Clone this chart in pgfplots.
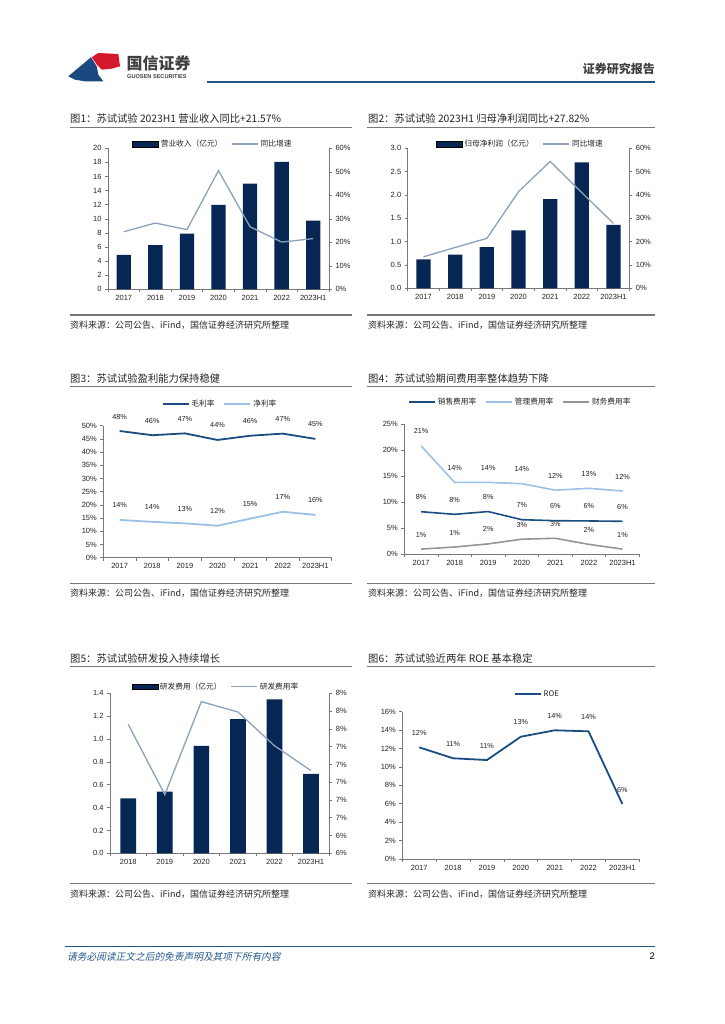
\documentclass[border=0pt]{standalone}
\usepackage{fontspec}
\setmainfont{Liberation Sans}
\newfontfamily\cjk{Noto Sans CJK SC}
\newfontfamily\cjkit{Noto Sans CJK SC}[FakeSlant=0.22]
\usepackage{pgfplots}
\pgfplotsset{compat=1.18}

\definecolor{navy}{RGB}{6,38,84}
\definecolor{gline}{RGB}{140,162,188}
\definecolor{dline}{RGB}{26,78,128}
\definecolor{lline}{RGB}{155,194,230}
\definecolor{fline}{RGB}{150,150,150}
\definecolor{axline}{RGB}{120,120,120}
\definecolor{txt}{RGB}{35,35,35}
\definecolor{rule}{RGB}{120,120,120}
\definecolor{hblue}{RGB}{36,88,140}
\definecolor{logored}{RGB}{214,24,44}
\definecolor{logoblue}{RGB}{28,72,130}

\pgfplotsset{
  base/.style={
    scale only axis, clip=false, anchor=south west,
    axis line style={draw=axline, line width=0.6pt},
    tick style={draw=axline, line width=0.6pt},
    major tick length=3pt,
    ticklabel style={font=\fontsize{7.5}{8.5}\selectfont, text=txt},
    /pgf/number format/assume math mode=true,
    legend style={draw=none, fill=none, anchor=center, inner sep=0pt,
      font=\cjk\fontsize{7.7}{9}\selectfont, text=txt, legend columns=-1,
      /tikz/every even column/.append style={column sep=7pt}},
  },
  cats/.style={
    axis x line*=bottom, axis y line*=left, tick align=outside,
    xticklabels={},
    extra x tick labels={#1},
    extra x tick style={major tick length=0pt,
      xticklabel style={yshift=-2.5pt}},
  },
  seven/.style={xmin=-0.5, xmax=6.5,
    xtick={-0.5,0.5,1.5,2.5,3.5,4.5,5.5,6.5},
    extra x ticks={0,1,2,3,4,5,6},
    cats={2017,2018,2019,2020,2021,2022,2023H1}},
  six/.style={xmin=-0.5, xmax=5.5,
    xtick={-0.5,0.5,1.5,2.5,3.5,4.5,5.5},
    extra x ticks={0,1,2,3,4,5},
    cats={2018,2019,2020,2021,2022,2023H1}},
  right/.style={axis x line=none, axis y line*=right, tick align=outside},
  pct/.style={yticklabel={\pgfmathprintnumber{\tick}\%}},
  barleg/.style={legend image code/.code={\fill[##1] (0pt,-2.8pt) rectangle (26pt,2.8pt);}},
  lineleg/.style={legend image code/.code={\draw[##1] (0pt,0pt) -- (26pt,0pt);}},
  lbl/.style={nodes near coords, point meta=explicit symbolic,
    every node near coord/.append style={font=\fontsize{7.3}{8}\selectfont,
      text=txt, anchor=center, inner sep=0pt, yshift=14.5pt}},
}

\begin{document}
\begin{tikzpicture}[x=1pt,y=1pt]
\fill[white] (0,0) rectangle (724,-1024);

% header
\fill[logored] (91.7,-57.3) -- (98.3,-53) -- (118.3,-54) -- (120,-66.3) -- (111.7,-68.7) -- (101.7,-69.7) -- (97.3,-65.3) -- cycle;
\fill[logoblue] (68.3,-76.3) -- (91,-57.3) -- (96.7,-66.3) -- (98.3,-74.7) -- (103.3,-81.3) -- (85,-81.3) -- (75,-79.7) -- cycle;
\node[anchor=west, inner sep=0pt, text=black!75] at (126.5,-63) {\cjk\bfseries\fontsize{16}{18}\selectfont 国信证券};
\node[anchor=west, inner sep=0pt, text=black!75] at (127,-76.5) {\bfseries\fontsize{5.6}{6}\selectfont GUOSEN SECURITIES};
\draw[hblue, line width=1.8pt] (207,-81.7) -- (655,-81.7);
\node[anchor=east, inner sep=0pt, text=black!75] at (655,-69.3) {\cjk\bfseries\fontsize{12}{14}\selectfont 证券研究报告};

% titles, rules, sources
\foreach \x/\y/\t in {70/118.3/{图1：苏试试验 2023H1 营业收入同比+21.57\%},
                       368/118.3/{图2：苏试试验 2023H1 归母净利润同比+27.82\%},
                       70/378.3/{图3：苏试试验盈利能力保持稳健},
                       368/378.3/{图4：苏试试验期间费用率整体趋势下降},
                       70/658.3/{图5：苏试试验研发投入持续增长},
                       368/658.3/{图6：苏试试验近两年 ROE 基本稳定}}
  {\node[anchor=west, inner sep=0pt, text=black!85] at (\x,-\y) {\cjk\fontsize{10.3}{12}\selectfont \t};}
\foreach \y in {127.3,315,386.7,583.3,666.7,883.3}
  {\draw[rule, line width=1.2pt] (70,-\y) -- (352,-\y);
   \draw[rule, line width=1.2pt] (367,-\y) -- (655,-\y);}
\foreach \x/\y in {70/325.5,368/325.5,70/593,368/593,70/894,368/894}
  {\node[anchor=west, inner sep=0pt, text=black!85] at (\x,-\y) {\cjk\fontsize{9}{11}\selectfont 资料来源：公司公告、iFind，国信证券经济研究所整理};}

% footer
\draw[hblue, line width=0.8pt] (65,-946.5) -- (655,-946.5);
\node[anchor=west, inner sep=0pt, text=hblue] at (67,-956.5) {\cjkit\fontsize{9.7}{11}\selectfont 请务必阅读正文之后的免责声明及其项下所有内容};
\node[anchor=east, inner sep=0pt] at (655,-956.5) {\fontsize{9.5}{11}\selectfont 2};

% chart 1
\begin{axis}[base, seven, at={(108pt,-289.3pt)}, width=221pt, height=141pt,
  ymin=0, ymax=20, ytick={0,2,...,20}]
\addplot[ybar, bar width=14.3pt, fill=navy, draw=none] coordinates
  {(0,4.87) (1,6.28) (2,7.89) (3,11.96) (4,14.98) (5,18.06) (6,9.73)};
\end{axis}
\begin{axis}[base, right, pct, at={(108pt,-289.3pt)}, width=221pt, height=141pt,
  xmin=-0.5, xmax=6.5, ymin=0, ymax=60, ytick={0,10,...,60},
  legend style={at={(0.475,1.03)}}]
\addlegendimage{barleg, fill=navy}
\addlegendentry{营业收入（亿元）}
\addplot[lineleg, gline, line width=1.3pt] coordinates
  {(0,24.5) (1,28.2) (2,25.4) (3,50.5) (4,26.6) (5,20.1) (6,21.57)};
\addlegendentry{同比增速}
\end{axis}

% chart 2
\begin{axis}[base, seven, at={(407.7pt,-288.3pt)}, width=221.6pt, height=140pt,
  ymin=0, ymax=3, ytick={0,0.5,...,3},
  yticklabel style={/pgf/number format/.cd, fixed, fixed zerofill, precision=1}]
\addplot[ybar, bar width=14.3pt, fill=navy, draw=none] coordinates
  {(0,0.62) (1,0.72) (2,0.88) (3,1.24) (4,1.91) (5,2.70) (6,1.36)};
\end{axis}
\begin{axis}[base, right, pct, at={(407.7pt,-288.3pt)}, width=221.6pt, height=140pt,
  xmin=-0.5, xmax=6.5, ymin=0, ymax=60, ytick={0,10,...,60},
  legend style={at={(0.509,1.031)}}]
\addlegendimage{barleg, fill=navy}
\addlegendentry{归母净利润（亿元）}
\addplot[lineleg, gline, line width=1.3pt] coordinates
  {(0,13.5) (1,17.5) (2,21.4) (3,41.4) (4,54.4) (5,41.0) (6,27.82)};
\addlegendentry{同比增速}
\end{axis}

% chart 3
\begin{axis}[base, seven, pct, at={(103.3pt,-557.7pt)}, width=228.4pt, height=132pt,
  ymin=0, ymax=50, ytick={0,5,...,50},
  legend style={at={(0.511,1.162)}}]
\addplot[lineleg, lbl, dline, line width=1.8pt] coordinates
  {(0,48.0)[48\%] (1,46.4)[46\%] (2,47.1)[47\%] (3,44.6)[44\%] (4,46.2)[46\%] (5,47.0)[47\%] (6,45.0)[45\%]};
\addlegendentry{毛利率}
\addplot[lineleg, lbl, lline, line width=1.8pt] coordinates
  {(0,14.3)[14\%] (1,13.6)[14\%] (2,13.0)[13\%] (3,12.1)[12\%] (4,14.8)[15\%] (5,17.4)[17\%] (6,16.2)[16\%]};
\addlegendentry{净利率}
\end{axis}

% chart 4
\begin{axis}[base, seven, pct, at={(404.3pt,-554.3pt)}, width=235pt, height=130.3pt,
  ymin=0, ymax=25, ytick={0,5,...,25},
  legend style={at={(0.494,1.171)}}]
\addplot[lineleg, lbl, dline, line width=1.6pt] coordinates
  {(0,8.17)[8\%] (1,7.67)[8\%] (2,8.2)[8\%] (3,6.64)[7\%] (4,6.45)[6\%] (5,6.4)[6\%] (6,6.33)[6\%]};
\addlegendentry{销售费用率}
\addplot[lineleg, lbl, lline, line width=1.6pt] coordinates
  {(0,20.8)[21\%] (1,13.8)[14\%] (2,13.8)[14\%] (3,13.55)[14\%] (4,12.3)[12\%] (5,12.66)[13\%] (6,12.14)[12\%]};
\addlegendentry{管理费用率}
\addplot[lineleg, lbl, fline, line width=1.6pt] coordinates
  {(0,1.0)[1\%] (1,1.4)[1\%] (2,2.0)[2\%] (3,2.9)[3\%] (4,3.07)[3\%] (5,1.9)[2\%] (6,1.0)[1\%]};
\addlegendentry{财务费用率}
\end{axis}

% chart 5
\begin{axis}[base, six, at={(110pt,-853.3pt)}, width=219.3pt, height=160pt,
  ymin=0, ymax=1.4, ytick={0,0.2,...,1.4},
  yticklabel style={/pgf/number format/.cd, fixed, fixed zerofill, precision=1}]
\addplot[ybar, bar width=15.7pt, fill=navy, draw=none] coordinates
  {(0,0.481) (1,0.539) (2,0.939) (3,1.175) (4,1.347) (5,0.694)};
\end{axis}
\begin{axis}[base, right, at={(110pt,-853.3pt)}, width=219.3pt, height=160pt,
  xmin=-0.5, xmax=5.5, ymin=6.2, ymax=8.0,
  ytick={6.2,6.4,6.6,6.8,7.0,7.2,7.4,7.6,7.8,8.0},
  yticklabels={6\%,6\%,7\%,7\%,7\%,7\%,7\%,8\%,8\%,8\%},
  legend style={at={(0.483,1.041)}}]
\addlegendimage{barleg, fill=navy}
\addlegendentry{研发费用（亿元）}
\addplot[lineleg, gline, line width=1.3pt] coordinates
  {(0,7.65) (1,6.86) (2,7.906) (3,7.79) (4,7.41) (5,7.13)};
\addlegendentry{研发费用率}
\end{axis}

% chart 6
\begin{axis}[base, seven, pct, at={(402.3pt,-859pt)}, width=237pt, height=147.3pt,
  ymin=0, ymax=16, ytick={0,2,...,16},
  legend style={at={(0.57,1.118)}}]
\addplot[lineleg, lbl, dline, line width=1.8pt] coordinates
  {(0,12.13)[12\%] (1,10.94)[11\%] (2,10.75)[11\%] (3,13.28)[13\%] (4,13.98)[14\%] (5,13.87)[14\%] (6,5.97)[6\%]};
\addlegendentry{ROE}
\end{axis}
\end{tikzpicture}
\end{document}
